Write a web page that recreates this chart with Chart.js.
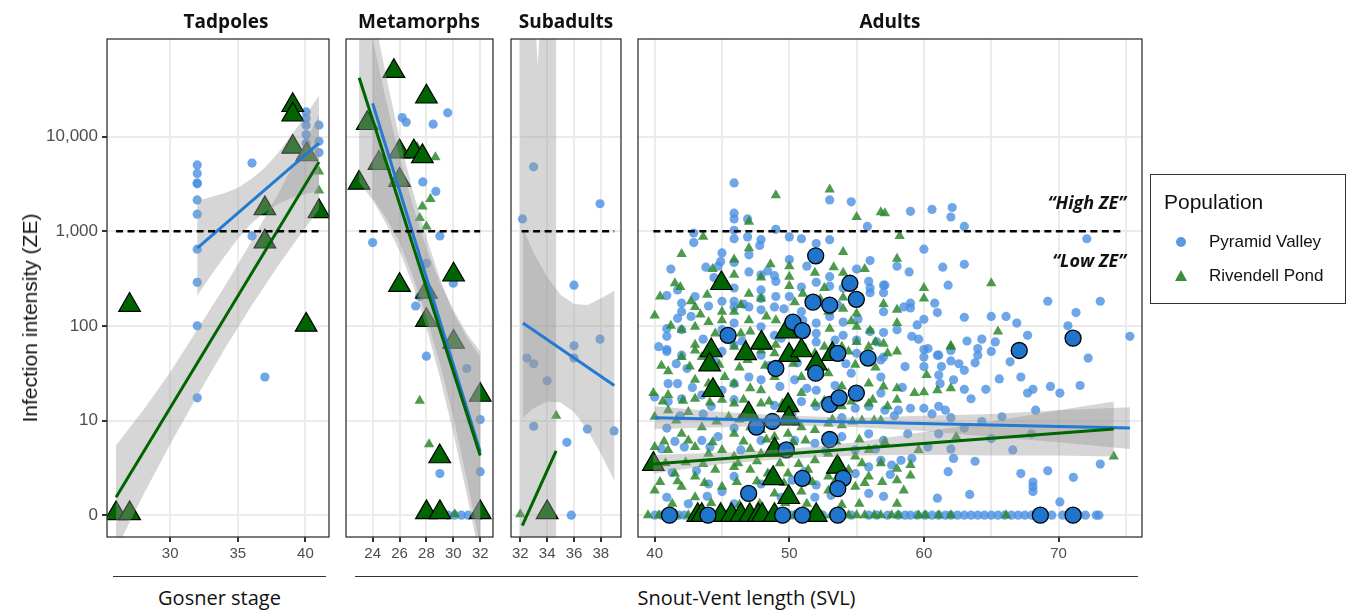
<!DOCTYPE html>
<html>
<head>
<meta charset="utf-8">
<script src="https://cdn.jsdelivr.net/npm/chart.js@4.4.0/dist/chart.umd.min.js"></script>
<style>
body{margin:0;background:#fff;}
#wrap{position:relative;width:1346px;height:612px;overflow:hidden;font-family:"Liberation Sans",Arial,sans-serif;}
canvas{position:absolute;top:0;}
.strip{position:absolute;top:8px;width:200px;text-align:center;font:700 19px "Open Sans",sans-serif;color:#111;line-height:26px;}
.note{position:absolute;right:220px;font:italic 700 18px "Open Sans",sans-serif;color:#111;line-height:24px;}
.rule{position:absolute;top:576px;height:0;border-top:1.3px solid #333;}
.xlab{position:absolute;top:583px;font:20px "Open Sans",sans-serif;color:#111;text-align:center;line-height:30px;}
#ytitle{position:absolute;left:30px;top:318px;transform:translate(-50%,-50%) rotate(-90deg);white-space:nowrap;font-size:21px;color:#111;}
#legend{position:absolute;left:1150px;top:174px;width:194px;height:128px;border:1px solid #333;}
#legend .ttl{position:absolute;left:13px;top:15px;font-size:21px;color:#111;}
#legend .item{position:absolute;left:58px;font-size:17px;color:#111;line-height:20px;}
#legend .dot{position:absolute;left:25px;top:62px;width:10px;height:10px;border-radius:50%;background:rgb(92,152,226);}
#legend .tri{position:absolute;left:24px;top:95px;width:0;height:0;border-left:6.5px solid transparent;border-right:6.5px solid transparent;border-bottom:11px solid rgb(60,140,60);}
</style>
</head>
<body>
<div id="wrap">
  <canvas id="cTad" width="349" height="570" style="left:0px"></canvas>
  <canvas id="cMeta" width="187" height="570" style="left:326px"></canvas>
  <canvas id="cSub" width="150" height="570" style="left:491px"></canvas>
  <canvas id="cAdult" width="544" height="570" style="left:618px"></canvas>

  <div class="strip" style="left:126px">Tadpoles</div>
  <div class="strip" style="left:319px">Metamorphs</div>
  <div class="strip" style="left:466px">Subadults</div>
  <div class="strip" style="left:790px">Adults</div>

  <div class="note" style="top:190px">“High ZE”</div>
  <div class="note" style="top:248px">“Low ZE”</div>

  <div id="ytitle">Infection intensity (ZE)</div>

  <div class="rule" style="left:113px;width:213px"></div>
  <div class="rule" style="left:355px;width:783px"></div>
  <div class="xlab" style="left:113px;width:213px">Gosner stage</div>
  <div class="xlab" style="left:355px;width:783px">Snout-Vent length (SVL)</div>

  <div id="legend">
    <div class="ttl">Population</div>
    <div class="dot"></div><div class="item" style="top:57px">Pyramid Valley</div>
    <div class="tri"></div><div class="item" style="top:91px">Rivendell Pond</div>
  </div>
</div>

<script>
// y is infection intensity on the log axis: 0 -> 0, 1 -> 10, 2 -> 100, 3 -> 1,000, 4 -> 10,000
const yTicks = [0, 1, 2, 3, 4];
const yTickLabels = ['0', '10', '100', '1,000', '10,000'];
const highZE = 3;

// ---- Tadpoles (x = Gosner stage)
const tadTicks = [30, 35, 40];
const tadPV = [[32,3.70],[32,3.61],[32,3.51],[32,3.50],[32,3.33],[32,3.18],[32,2.81],[32,2.46],[32,2.00],[32,1.24],
  [36.05,3.72],[36.05,2.95],[37,1.46],[40.05,4.26],[40.05,4.19],[40.05,4.12],[40.05,4.02],[40.05,3.93],[41,4.12],[41,3.95],[41,3.83]];
const tadRP = [[41,3.63],[41,3.43]];
const tadRPBig = [[39.06,4.33],[39.06,4.23],[39.06,3.89],[40.1,3.81],[41,3.21],[37,3.24],[37,2.89],[27,2.22],[40.05,2.01],[26,0.02],[27,0.02]];
const tadFitPV = [[32,2.82],[41,3.93]];
const tadFitRP = [[26,0.19],[41,3.73]];
const tadBandPVx = [32,33,34,35,36,37,38,39,40,41];
const tadBandPVhi = [3.32,3.36,3.40,3.46,3.55,3.67,3.83,4.02,4.22,4.43];
const tadBandPVlo = [2.32,2.53,2.73,2.92,3.08,3.20,3.29,3.35,3.39,3.43];
const tadBandRPx = [26,28,30,32,34,36,38,40,41];
const tadBandRPhi = [0.74,1.11,1.51,1.96,2.41,2.89,3.40,3.94,4.23];
const tadBandRPlo = [-0.36,0.21,0.75,1.26,1.75,2.21,2.64,3.04,3.23];

// ---- Metamorphs (x = SVL)
const metaTicks = [24, 26, 28, 30, 32];
const metaPV = [[29.58,4.25],[26.2,4.2],[26.5,4.15],[28.5,4.13],[27.73,3.52],[28.7,3.42],[29,2.95],[24,2.88],[28,2.66],[30,2.45],
  [27.5,2.31],[27.2,2.21],[28,1.68],[31,1.55],[32,1.01],[29,0.44],[32,0.46],[29.6,0],[30.1,0],[30.6,0],[31.1,0],[32,0]];
const metaRP = [[27.3,3.89],[28.67,3.78],[28.3,3.34],[27.7,3.26],[27.5,3.14],[28,3.05],[27.5,1.21],[28.2,0.75],[30.1,0.01]];
const metaRPBig = [[25.58,4.69],[28,4.42],[23.6,4.14],[26,3.84],[27.06,3.84],[27.7,3.79],[24.47,3.72],[26,3.54],[22.99,3.51],
  [26,2.43],[28,2.36],[30.02,2.54],[28,2.06],[30.02,1.83],[32,1.27],[28.99,0.62],[28,0.03],[29,0.03],[32,0.03]];
const metaFitPV = [[24,4.35],[32,0.67]];
const metaFitRP = [[23,4.62],[32,0.63]];
const metaBandPVx = [24,25,26,27,28,29,30,31,32];
const metaBandPVhi = [5.35,4.64,3.98,3.42,2.93,2.50,2.14,1.88,1.67];
const metaBandPVlo = [3.35,3.14,2.88,2.52,2.09,1.60,1.04,0.38,-0.33];
const metaBandRPx = [23,24,25,26,27,28,29,30,31,32];
const metaBandRPhi = [5.72,5.03,4.38,3.79,3.27,2.82,2.46,2.17,1.92,1.73];
const metaBandRPlo = [3.52,3.33,3.08,2.79,2.43,1.98,1.46,0.87,0.22,-0.47];

// ---- Subadults
const subTicks = [32, 34, 36, 38];
const subPV = [[32.99,3.68],[32.17,3.13],[37.94,3.29],[36,2.43],[37.94,1.86],[36,1.79],[36,1.66],[32.5,1.66],[33,1.6],[34,1.42],
  [33,0.94],[37,0.91],[35.47,0.77],[35.8,0],[38.98,0.89]];
const subRP = [[34.67,1.05],[32,0.01]];
const subRPBig = [[34,0.03]];
const subFitPV = [[32.2,2.03],[39,1.37]];
const subFitRP = [[32.15,-0.11],[34.67,0.68]];
const subBandPVx = [32.2,33,34,35,36,37,38,39];
const subBandPVhi = [3.03,2.77,2.52,2.33,2.23,2.22,2.29,2.37];
const subBandPVlo = [1.03,1.13,1.20,1.19,1.09,0.90,0.65,0.37];
const subBandRPx = [32,33,33.3,33.6,34.67];
const subBandRPhi = [8,5.5,4.75,5.5,8];
const subBandRPlo = [-3,-3,-3,-3,-3];

// ---- Adults
const adultTicks = [40, 45, 50, 55, 60, 65, 70, 75];
const adultPV = [
  [45.9,3.51],[45.9,3.19],[45.9,3.13],[45.9,3.01],[45.9,2.92],[46.9,3.13],[42.9,2.98],[42.9,2.88],[46.9,2.94],[47.9,2.91],
  [47.8,2.85],[49.0,3.02],[50.0,2.94],[50.9,2.92],[52.0,2.87],[53.0,3.33],[53.0,2.91],[54.6,3.31],[55.8,3.05],[56.0,2.69],
  [45.0,2.77],[47.0,2.75],[44.9,2.68],[44.7,2.63],[45.9,2.67],[50.0,2.70],[44.4,2.51],[45.9,2.40],[47.0,2.57],[47.9,2.54],
  [48.9,2.53],[49.0,2.47],[47.9,2.38],[47.9,2.29],[49.0,2.31],[50.0,2.31],[50.9,2.41],[52.0,2.46],[53.0,2.52],[53.0,2.42],
  [54.0,2.40],[55.9,2.47],[56.0,2.40],[57.0,2.43],[57.0,2.35],[56.0,2.35],[41.7,2.38],[40.9,2.32],[42.0,2.24],[43.0,2.31],
  [42.0,2.15],[45.9,2.26],[45.9,2.20],[45.0,2.26],[47.0,2.20],[48.9,2.20],[47.9,2.17],[50.9,2.15],[51.0,2.06],[52.0,2.03],
  [53.0,2.10],[54.0,2.04],[55.1,2.07],[57.0,2.15],[56.0,1.94],[57.0,1.93],[41.7,2.08],[42.7,2.10],[40.9,1.97],[40.9,1.89],
  [42.0,1.96],[45.9,2.03],[47.9,1.99],[45.0,1.96],[48.9,1.90],[52.0,1.92],[54.0,1.90],[55.0,1.85],[52.0,1.83],[40.3,1.78],
  [42.0,1.69],[45.0,1.73],[45.9,1.80],[47.9,1.69],[40.9,1.75],[51.0,1.78],[55.0,1.71],[57.0,1.67],
  [40.9,1.73],[42.4,1.55],[41.0,1.39],[41.7,1.39],[42.0,1.23],[41.0,1.20],[43.5,1.27],[45.0,1.32],[45.9,1.39],[47.0,1.46],
  [47.9,1.43],[50.4,1.43],[52.0,1.32],[54.6,1.50],[56.8,1.46],[56.8,1.64],[56.8,1.29],[55.9,1.15],[54.9,1.13],[52.0,1.15],
  [50.9,1.20],[48.9,1.16],[45.9,1.22],[44.2,1.15],[40.0,1.25],[40.9,0.92],[45.9,0.92],[44.7,0.83],[43.5,0.79],[42.2,0.72],
  [41.5,0.78],[47.9,0.79],[50.4,0.79],[51.9,0.76],[53.9,0.83],[55.9,0.86],[57.0,0.79],[54.9,0.69],[45.9,0.41],[44.0,0.33],
  [45.0,0.25],[47.9,0.33],[50.2,0.37],[52.0,0.32],[55.9,0.51],[56.8,0.58],[54.9,0.44],[40.9,0.19],[42.5,0.12],[45.9,0.12],
  [51.9,0.19],[55.9,0.23],
  [40.0,0],[40.5,0],[41.2,0],[42.2,0],[43.2,0],[44.2,0],[45.7,0],[46.8,0],[48.2,0],[49.0,0],[50.2,0],[51.9,0],[53.4,0],
  [54.6,0],[55.9,0],[57.3,0],
  [59.0,3.21],[60.6,3.23],[62.1,3.25],[62.0,3.15],[63.0,3.05],[72.1,2.92],[60.0,2.81],[58.0,2.63],[63.0,2.65],[61.8,2.43],
  [57.1,2.43],[59.0,2.24],[59.0,2.19],[61.0,2.14],[69.2,2.26],[73.1,2.26],[71.3,2.14],[63.0,2.09],[65.0,2.10],[66.1,2.10],
  [66.9,2.03],[60.0,2.07],[59.5,2.01],[58.0,1.96],[59.1,1.89],[67.7,1.90],[70.7,2.00],[75.3,1.89],[64.3,1.86],[65.3,1.83],
  [62.0,1.74],[64.0,1.76],[65.0,1.73],[60.0,1.75],[61.0,1.69],
  [60.3,1.76],[61.1,1.69],[60.0,1.67],[62.0,1.63],[63.8,1.61],[64.0,1.69],[67.2,1.46],[65.6,1.44],[63.0,1.53],[61.3,1.57],
  [61.1,1.48],[60.0,1.57],[61.2,1.39],[62.2,1.43],[63.0,1.33],[63.5,1.23],[68.1,1.33],[67.7,1.29],[70.1,1.29],[71.6,1.37],
  [72.2,1.66],[60.0,1.13],[61.1,1.15],[61.6,1.11],[62.0,1.03],[59.0,1.13],[58.1,1.11],[57.1,1.11],[68.3,1.11],[63.0,0.92],
  [64.3,0.99],[61.1,0.86],[58.8,0.86],[65.0,0.81],[68.0,0.86],[62.0,0.70],[62.2,0.60],[63.8,0.57],[59.1,0.60],[58.3,0.58],
  [57.6,0.53],[73.1,0.54],[69.2,0.47],[71.1,0.40],[68.1,0.35],[68.1,0.30],[68.1,0.25],[70.1,0.14],[61.0,0.18],
  [58.1,0],[59.0,0],[60.1,0],[61.1,0],[62.0,0],[63.0,0],[64.0,0],[65.0,0],[66.0,0],[67.0,0],[68.0,0],[72.0,0],[72.8,0]
];
// the dense part of the Pyramid Valley cloud
const adultPVDense = [
  [41.2,2.6],[43.8,2.62],[48.4,2.58],[51.3,2.63],[55.0,2.6],[58.9,2.57],[61.4,2.62],
  [44.0,2.21],[46.6,2.23],[49.6,2.18],[53.6,2.22],[58.5,2.2],[60.8,2.24],
  [43.6,1.86],[46.5,1.84],[49.4,1.87],[53.4,1.85],[56.5,1.83],[59.6,1.86],[63.2,1.84],
  [41.6,1.6],[44.5,1.62],[48.5,1.58],[50.6,1.61],[54.2,1.6],[58.6,1.57],[62.6,1.6],[66.4,1.62],
  [42.8,1.35],[44.4,1.33],[49.3,1.36],[51.3,1.34],[53.4,1.37],[58.4,1.35],[64.6,1.33],[69.4,1.36],
  [41.9,1.05],[43.6,1.07],[46.6,1.04],[50.2,1.06],[53.9,1.03],[57.8,1.05],[60.6,1.07],[65.8,1.04],
  [40.5,0.7],[44.1,0.72],[46.4,0.69],[49.2,0.71],[52.7,0.68],[56.4,0.7],[60.3,0.72],[66.6,0.69],
  [41.3,0.45],[43.1,0.47],[48.6,0.44],[51.1,0.46],[54.1,0.45],[57.5,0.43],[61.8,0.46],[67.2,0.44],
  [43.9,0.2],[47.1,0.22],[49.4,0.19],[53.1,0.21],[57.0,0.2],[63.4,0.22],
  [40.8,0],[41.8,0],[43.6,0],[44.8,0],[46.3,0],[47.4,0],[48.6,0],[50.6,0],[52.5,0],[53.9,0],[56.5,0],[58.6,0],[59.5,0],
  [60.6,0],[61.6,0],[62.5,0],[63.5,0],[64.5,0],[65.5,0],[66.5,0],[67.5,0],[69.5,0],[70.3,0],[71.5,0],[73.0,0]
];
const adultRP = [
  [49.0,3.38],[53.0,3.44],[56.8,3.20],[55.0,3.15],[47.0,3.10],[43.6,2.94],[42.0,2.76],[47.0,2.82],[54.0,2.78],[45.9,2.70],
  [50.0,2.63],[53.3,2.62],[54.0,2.56],[51.9,2.56],[45.9,2.54],[47.9,2.51],[50.0,2.52],[50.0,2.42],[43.9,2.33],[41.9,2.41],
  [40.4,2.31],[42.7,2.26],[47.0,2.34],[47.9,2.29],[51.0,2.34],[54.0,2.30],[55.0,2.13],[57.0,2.23],[40.0,2.11],[43.0,2.20],
  [45.0,2.15],[45.9,2.15],[47.0,2.06],[49.0,2.06],[52.9,2.15],[54.0,2.18],[42.0,1.96],[44.0,2.04],[45.0,2.06],[43.0,1.99],
  [47.1,1.94],[53.0,1.97],[55.0,1.99],[56.0,1.95],[56.4,1.83],[57.0,1.81],[43.0,1.80],[44.5,1.92],[46.4,1.92],[49.0,1.80],
  [52.6,1.78],[53.9,1.78],[55.0,1.83],[42.0,1.67],[43.5,1.67],
  [43.0,1.74],[45.9,1.78],[46.9,1.64],[47.9,1.74],[48.9,1.71],[51.9,1.71],[54.4,1.73],[55.9,1.78],[57.3,1.71],[41.0,1.52],
  [43.0,1.43],[44.0,1.39],[45.2,1.46],[45.9,1.39],[47.1,1.34],[47.9,1.32],[48.9,1.46],[50.9,1.46],[52.9,1.50],[53.9,1.36],
  [55.9,1.39],[57.0,1.36],[39.9,1.29],[41.0,1.27],[43.0,1.23],[45.0,1.22],[45.9,1.18],[47.9,1.18],[50.9,1.29],[51.9,1.18],
  [53.9,1.15],[55.9,1.18],[57.3,1.15],[40.0,1.04],[41.0,1.11],[42.5,1.09],[43.5,0.93],[42.0,0.86],[45.5,1.04],[45.9,0.86],
  [47.1,0.93],[47.9,0.90],[48.9,0.83],[49.9,0.86],[50.9,0.93],[51.9,0.90],[52.9,0.97],[53.9,0.95],[55.4,1.00],[56.8,1.00],
  [40.0,0.72],[41.0,0.69],[43.0,0.72],[44.0,0.65],[45.0,0.69],[45.9,0.62],[47.1,0.70],[47.9,0.65],[49.9,0.65],[51.9,0.58],
  [52.9,0.65],[54.9,0.62],[55.9,0.69],[56.8,0.55],[40.0,0.51],[41.5,0.44],[43.0,0.41],[44.5,0.48],[45.9,0.51],[47.1,0.48],
  [48.4,0.44],[49.9,0.44],[51.4,0.48],[52.9,0.41],[54.4,0.48],[55.9,0.41],[40.0,0.26],[42.0,0.30],[43.0,0.19],[45.0,0.30],
  [46.9,0.26],[48.9,0.23],[50.9,0.25],[52.9,0.26],[54.9,0.30],
  [39.5,0],[41.0,0],[42.5,0],[43.5,0],[44.7,0],[45.9,0],[46.9,0],[48.2,0],[49.4,0],[50.4,0],[51.6,0],[53.1,0],[54.4,0],
  [55.6,0],[56.8,0],[57.6,0],
  [57.1,3.19],[58.2,2.95],[58.0,2.71],[65.0,2.45],[60.0,2.40],[60.0,2.29],[58.0,2.17],[58.0,2.03],[65.5,1.94],[62.0,1.78],
  [58.0,1.73],[62.0,1.79],[60.2,1.48],[59.3,1.29],[60.0,1.30],[61.0,1.32],[62.0,1.34],[58.0,1.34],[58.0,1.22],[62.4,0.83],
  [59.6,0.69],[58.0,0.49],[59.0,0.53],[59.0,0.42],[58.0,0.37],[58.5,0.26],[58.0,0.12],[74.1,0.62],
  [58.1,0],[59.6,0],[60.1,0],[61.1,0],[62.0,0],[66.1,0]
];
// the dense part of the Rivendell Pond cloud
const adultRPDense = [
  [41.2,2.0],[43.4,2.12],[46.4,2.22],[48.3,2.1],[50.4,2.25],[52.3,2.28],[54.6,2.05],[41.5,2.45],[44.3,2.6],[48.6,2.65],
  [52.6,2.4],[55.6,2.6],
  [40.5,1.58],[42.6,1.57],[44.8,1.59],[46.3,1.56],[48.2,1.58],[50.3,1.6],[52.4,1.57],[54.9,1.59],[56.4,1.56],
  [40.6,1.2],[42.1,1.21],[44.1,1.19],[46.6,1.22],[48.5,1.2],[49.5,1.18],[52.6,1.21],[54.6,1.2],[56.2,1.22],
  [41.6,1.0],[44.6,0.99],[46.3,1.01],[48.4,1.0],[50.6,0.98],[53.2,1.01],[54.7,0.99],[56.3,1.0],
  [40.7,0.78],[42.5,0.79],[44.3,0.77],[46.6,0.78],[48.3,0.8],[50.3,0.77],[51.2,0.79],[53.5,0.78],[55.2,0.8],[57.1,0.77],
  [40.8,0.55],[42.3,0.56],[43.6,0.54],[46.2,0.55],[47.6,0.57],[49.3,0.55],[50.7,0.54],[53.7,0.56],[55.4,0.55],
  [40.4,0.35],[41.7,0.36],[43.7,0.34],[46.1,0.35],[47.6,0.36],[49.6,0.34],[51.7,0.35],[53.4,0.36],[55.6,0.34],[56.9,0.35],
  [41.3,0.12],[44.2,0.13],[46.3,0.11],[47.8,0.12],[49.7,0.13],[51.3,0.12],[53.9,0.11],[55.2,0.12],
  [40.3,0],[41.6,0],[42.9,0],[44.1,0],[45.3,0],[46.4,0],[47.5,0],[48.7,0],[49.9,0],[51.1,0],[52.4,0],[53.7,0],[55.0,0],[56.3,0]
];
const adultRPBig = [[44.96,2.45],[49.78,1.94],[47.93,1.82],[44.2,1.74],[46.76,1.71],[49.98,1.69],[50.9,1.74],[53.2,1.7],
  [44.08,1.59],[52.0,1.6],[44.33,1.32],[49.9,1.16],[46.98,1.07],[49.96,1.02],[48.9,0.69],[39.9,0.54],[48.8,0.39],[53.57,0.51],
  [49.96,0.19],[43.2,0],[43.5,0],[44.9,0],[45.7,0],[46.4,0],[47.06,0],[47.7,0],[48.0,0],[48.9,0],[52.0,0]];
const adultPVBig = [[51.96,2.74],[54.5,2.45],[51.76,2.25],[53,2.22],[54.98,2.28],[50.27,2.04],[50.97,1.95],[45.45,1.9],
  [53.6,1.71],[55.85,1.66],[49,1.55],[51.96,1.5],[54.98,1.29],[53,1.17],[53.7,1.24],[47.56,0.93],[48.74,0.99],[53,0.8],
  [49.78,0.69],[50.97,0.39],[54,0.39],[53.6,0.28],[46.98,0.23],[41.1,0],[43.96,0],[49.5,0],[50.97,0],[53.6,0],
  [67.08,1.74],[71.08,1.87],[68.65,0],[71.08,0]];
const adultFitPV = [[40,1.03],[75.3,0.92]];
const adultFitRP = [[39.9,0.54],[74.1,0.91]];
const adultBandPVx = [40,45,50,55,60,65,70,75.3];
const adultBandPVhi = [1.15,1.09,1.05,1.03,1.05,1.07,1.11,1.14];
const adultBandPVlo = [0.91,0.93,0.95,0.93,0.89,0.83,0.77,0.70];
const adultBandRPx = [39.9,45,50,55,60,65,70,74.1];
const adultBandRPhi = [0.64,0.66,0.70,0.77,0.88,0.99,1.11,1.20];
const adultBandRPlo = [0.44,0.54,0.60,0.63,0.64,0.63,0.63,0.62];

const BLUE = 'rgba(74,144,226,0.8)';
const GREEN = 'rgba(46,136,46,0.85)';
const FIT_BLUE = '#2479d3';
const FIT_GREEN = '#006400';
const BAND = 'rgba(153,153,153,0.4)';

Chart.defaults.font.family = '"Liberation Sans", Arial, sans-serif';

function pts(a) { return a.map(p => ({x: p[0], y: p[1]})); }
function band(xs, hi, lo) {
  const d = xs.map((x, i) => ({x: x, y: hi[i]}));
  for (let i = xs.length - 1; i >= 0; i--) d.push({x: xs[i], y: lo[i]});
  return d;
}

const boxPlugin = {
  id: 'box',
  afterDraw(chart) {
    const {ctx, chartArea: a} = chart;
    ctx.save();
    ctx.strokeStyle = '#333';
    ctx.lineWidth = 1.3;
    ctx.strokeRect(a.left, a.top, a.right - a.left, a.bottom - a.top);
    ctx.restore();
  }
};

function panel(id, c) {
  const ds = [];
  ds.push({data: pts(c.pv), pointStyle: 'circle', pointRadius: 4.6, backgroundColor: BLUE, borderWidth: 0, order: 9, clip: 0});
  ds.push({data: pts(c.rp), pointStyle: 'triangle', pointRadius: 6, backgroundColor: GREEN, borderWidth: 0, order: 8, clip: 0});
  ds.push({data: pts(c.rpBig), pointStyle: 'triangle', pointRadius: 12.5, backgroundColor: '#006400', borderColor: '#000', borderWidth: 1.2, order: 7, clip: 0});
  if (c.pvBig) ds.push({data: pts(c.pvBig), pointStyle: 'circle', pointRadius: 8, backgroundColor: '#1f74cc', borderColor: '#000', borderWidth: 1.3, order: 6, clip: 0});
  c.bands.forEach(b => ds.push({type: 'line', data: band(b[0], b[1], b[2]), fill: 'shape', backgroundColor: BAND, borderWidth: 0, pointRadius: 0, tension: 0, order: 5, clip: 0}));
  ds.push({type: 'line', data: pts(c.fitPV), borderColor: FIT_BLUE, borderWidth: 3, pointRadius: 0, fill: false, order: 4, clip: 0});
  ds.push({type: 'line', data: pts(c.fitRP), borderColor: FIT_GREEN, borderWidth: 3, pointRadius: 0, fill: false, order: 3, clip: 0});
  ds.push({type: 'line', data: [{x: c.dash[0], y: highZE}, {x: c.dash[1], y: highZE}], borderColor: '#000', borderWidth: 2.4, borderDash: [7, 4.5], pointRadius: 0, fill: false, order: 1, clip: 0});

  return new Chart(document.getElementById(id), {
    type: 'scatter',
    data: {datasets: ds},
    options: {
      responsive: false,
      animation: false,
      devicePixelRatio: 1,
      events: [],
      layout: {padding: {left: c.showY ? 0 : 20, right: 20, top: 39, bottom: 0}},
      plugins: {legend: {display: false}, tooltip: {enabled: false}},
      scales: {
        x: {
          type: 'linear', min: c.xmin, max: c.xmax,
          afterBuildTicks: s => { s.ticks = c.ticks.map(v => ({value: v})); },
          afterFit: s => { s.height = 33; },
          border: {display: false},
          grid: {color: '#ebebeb', lineWidth: 2, tickLength: 5,
            tickColor: ctx => (c.labelEvery && ctx.tick && ctx.tick.value % c.labelEvery !== 0) ? 'rgba(0,0,0,0)' : '#333'},
          ticks: {autoSkip: false, maxRotation: 0, padding: 3, color: '#4d4d4d', font: {size: 15},
            callback: v => (c.labelEvery && v % c.labelEvery !== 0) ? '' : v}
        },
        y: {
          type: 'linear', min: -0.23, max: 5.03,
          afterBuildTicks: s => { s.ticks = yTicks.map(v => ({value: v})); },
          afterFit: s => { s.width = c.showY ? 107 : 0; },
          border: {display: false},
          grid: {color: '#ebebeb', lineWidth: 2, tickLength: 5, tickColor: '#333', drawTicks: c.showY},
          ticks: {display: c.showY, padding: 4, color: '#4d4d4d', font: {size: 17},
            callback: v => yTickLabels[yTicks.indexOf(v)]}
        }
      }
    },
    plugins: [boxPlugin]
  });
}

panel('cTad', {showY: true, xmin: 25.33, xmax: 41.74, ticks: tadTicks, pv: tadPV, rp: tadRP, rpBig: tadRPBig,
  fitPV: tadFitPV, fitRP: tadFitRP, dash: [26, 41.1],
  bands: [[tadBandPVx, tadBandPVhi, tadBandPVlo], [tadBandRPx, tadBandRPhi, tadBandRPlo]]});
panel('cMeta', {showY: false, xmin: 22.02, xmax: 32.95, ticks: metaTicks, pv: metaPV, rp: metaRP, rpBig: metaRPBig,
  fitPV: metaFitPV, fitRP: metaFitRP, dash: [23, 32],
  bands: [[metaBandPVx, metaBandPVhi, metaBandPVlo], [metaBandRPx, metaBandRPhi, metaBandRPlo]]});
panel('cSub', {showY: false, xmin: 31.31, xmax: 39.5, ticks: subTicks, pv: subPV, rp: subRP, rpBig: subRPBig,
  fitPV: subFitPV, fitRP: subFitRP, dash: [32.1, 39],
  bands: [[subBandPVx, subBandPVhi, subBandPVlo], [subBandRPx, subBandRPhi, subBandRPlo]]});
panel('cAdult', {showY: false, xmin: 38.76, xmax: 76.2, ticks: adultTicks, labelEvery: 10,
  pv: adultPV.concat(adultPVDense), rp: adultRP.concat(adultRPDense),
  rpBig: adultRPBig, pvBig: adultPVBig, fitPV: adultFitPV, fitRP: adultFitRP, dash: [39.9, 74.9],
  bands: [[adultBandPVx, adultBandPVhi, adultBandPVlo], [adultBandRPx, adultBandRPhi, adultBandRPlo]]});
</script>
</body>
</html>
